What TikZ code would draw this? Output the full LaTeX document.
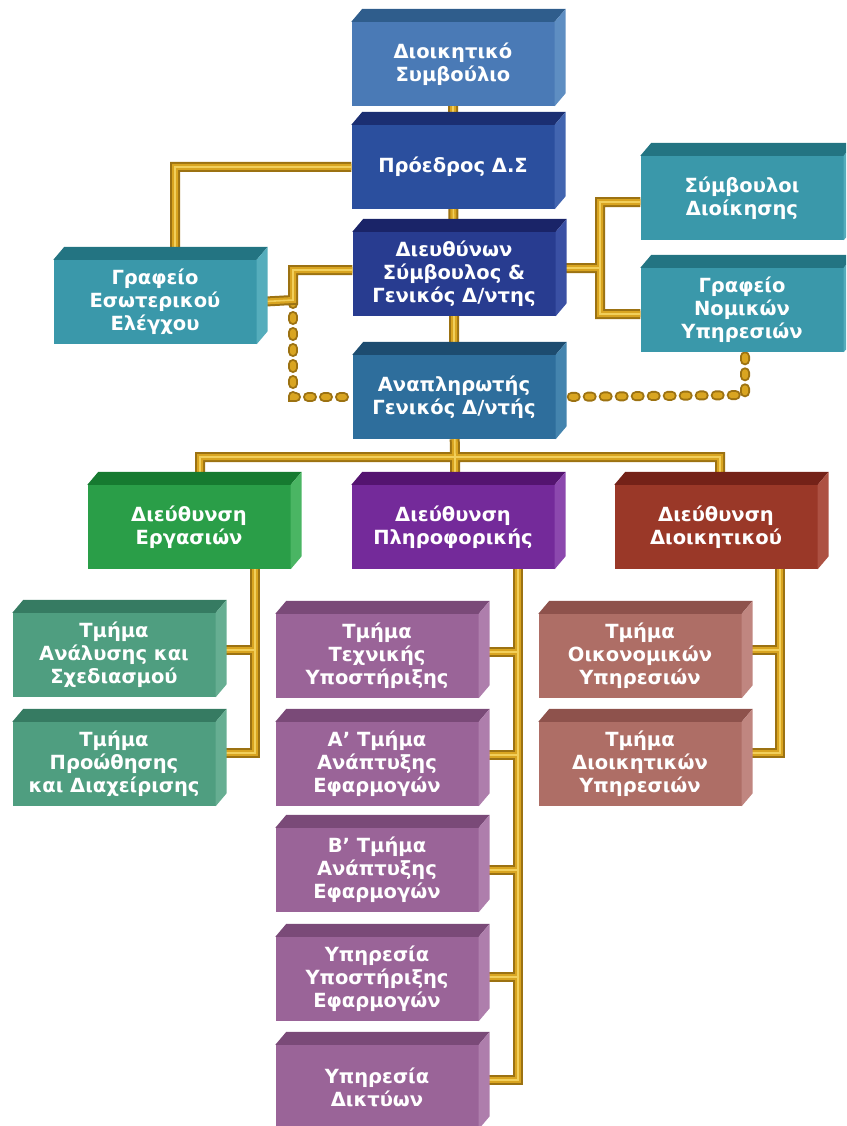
\documentclass[tikz,border=0pt]{standalone}
\usepackage{fontspec}
\setmainfont{DejaVu Sans}
\usetikzlibrary{calc}
\pgfdeclarelayer{bg}
\pgfsetlayers{bg,main}
\definecolor{pipedark}{HTML}{9C7212}
\definecolor{pipemid}{HTML}{D9A521}
\definecolor{pipelight}{HTML}{F2CF5A}
\definecolor{bAf}{HTML}{4A7AB6}\definecolor{bAt}{HTML}{2F5D8C}\definecolor{bAs}{HTML}{5E8EC2}
\definecolor{bBf}{HTML}{2B4F9E}\definecolor{bBt}{HTML}{1B2F72}\definecolor{bBs}{HTML}{4265B0}
\definecolor{bCf}{HTML}{283C90}\definecolor{bCt}{HTML}{1A2468}\definecolor{bCs}{HTML}{3A50A4}
\definecolor{bDf}{HTML}{2E6E9C}\definecolor{bDt}{HTML}{1D4C70}\definecolor{bDs}{HTML}{4484AE}
\definecolor{tlf}{HTML}{3A98AA}\definecolor{tlt}{HTML}{237482}\definecolor{tls}{HTML}{55ADBC}
\definecolor{grf}{HTML}{2A9E48}\definecolor{grt}{HTML}{167A30}\definecolor{grs}{HTML}{4AB563}
\definecolor{puf}{HTML}{742A9A}\definecolor{put}{HTML}{541470}\definecolor{pus}{HTML}{8C48AE}
\definecolor{rdf}{HTML}{9A3828}\definecolor{rdt}{HTML}{742218}\definecolor{rds}{HTML}{AD5142}
\definecolor{gsf}{HTML}{4F9E80}\definecolor{gst}{HTML}{367B62}\definecolor{gss}{HTML}{66AE92}
\definecolor{psf}{HTML}{9A6498}\definecolor{pst}{HTML}{7A4A78}\definecolor{pss}{HTML}{AE7EAC}
\definecolor{rsf}{HTML}{AE6E66}\definecolor{rst}{HTML}{8E524C}\definecolor{rss}{HTML}{C08680}
\tikzset{
  obox/.style={rectangle, minimum width=203pt, minimum height=84pt, inner sep=0pt,
    text=white, align=center, font=\bfseries\fontsize{19.5}{23}\selectfont},
  pipe/.style={draw=pipemid, line width=6pt,
    preaction={draw=pipedark, line width=10pt},
    postaction={draw=pipelight, line width=1.6pt}},
  dpipe/.style={draw=pipemid, line width=6pt, line cap=round, dash pattern=on 4pt off 12pt,
    preaction={draw=pipedark, line width=10pt, line cap=round, dash pattern=on 4pt off 12pt}},
}
\newcommand\faces[3]{%
  \fill[#2] (#1.north west) -- ++(11,13) -- ([shift={(11,13)}]#1.north east) -- (#1.north east) -- cycle;
  \fill[#3] (#1.north east) -- ++(11,13) -- ([shift={(11,13)}]#1.south east) -- (#1.south east) -- cycle;}
\begin{document}
\begin{tikzpicture}[x=1pt,y=1pt]
\useasboundingbox (0,0) rectangle (846,-1126);
\clip (0,0) rectangle (846,-1126);
% top chain
\node[obox, fill=bAf] (b1) at (453,-64) {Διοικητικό\\Συμβούλιο};
\node[obox, fill=bBf] (b2) at (453,-167) {Πρόεδρος Δ.Σ};
\node[obox, fill=bCf] (b3) at (454,-274) {Διευθύνων\\Σύμβουλος \&\\Γενικός Δ/ντης};
\node[obox, fill=bDf] (b4) at (454,-397) {Αναπληρωτής\\Γενικός Δ/ντής};
\node[obox, fill=tlf] (gi) at (155,-302) {Γραφείο\\Εσωτερικού\\Ελέγχου};
\node[obox, fill=tlf] (sd) at (742,-198) {Σύμβουλοι\\Διοίκησης};
\node[obox, fill=tlf] (gn) at (742,-310) {Γραφείο\\Νομικών\\Υπηρεσιών};
% directorates
\node[obox, fill=grf] (dE) at (189,-527) {Διεύθυνση\\Εργασιών};
\node[obox, fill=puf] (dP) at (453,-527) {Διεύθυνση\\Πληροφορικής};
\node[obox, fill=rdf] (dD) at (716,-527) {Διεύθυνση\\Διοικητικού};
% departments
\node[obox, fill=gsf] (g1) at (114,-655) {Τμήμα\\Ανάλυσης και\\Σχεδιασμού};
\node[obox, fill=gsf] (g2) at (114,-764) {Τμήμα\\Προώθησης\\και Διαχείρισης};
\node[obox, fill=psf] (p1) at (377,-656) {Τμήμα\\Τεχνικής\\Υποστήριξης};
\node[obox, fill=psf] (p2) at (377,-764) {Α’ Τμήμα\\Ανάπτυξης\\Εφαρμογών};
\node[obox, fill=psf] (p3) at (377,-870) {Β’ Τμήμα\\Ανάπτυξης\\Εφαρμογών};
\node[obox, fill=psf] (p4) at (377,-979) {Υπηρεσία\\Υποστήριξης\\Εφαρμογών};
\node[obox, fill=psf] (p5) at (377,-1087) {Υπηρεσία\\Δικτύων};
\node[obox, fill=rsf] (r1) at (640,-656) {Τμήμα\\Οικονομικών\\Υπηρεσιών};
\node[obox, fill=rsf] (r2) at (640,-764) {Τμήμα\\Διοικητικών\\Υπηρεσιών};
% 3D faces
\faces{b1}{bAt}{bAs}\faces{b2}{bBt}{bBs}\faces{b3}{bCt}{bCs}\faces{b4}{bDt}{bDs}
\faces{gi}{tlt}{tls}\faces{sd}{tlt}{tls}\faces{gn}{tlt}{tls}
\faces{dE}{grt}{grs}\faces{dP}{put}{pus}\faces{dD}{rdt}{rds}
\faces{g1}{gst}{gss}\faces{g2}{gst}{gss}
\faces{p1}{pst}{pss}\faces{p2}{pst}{pss}\faces{p3}{pst}{pss}\faces{p4}{pst}{pss}\faces{p5}{pst}{pss}
\faces{r1}{rst}{rss}\faces{r2}{rst}{rss}
% connectors
\begin{pgfonlayer}{bg}
\coordinate (j1) at (293,-300);
\coordinate (j2) at (600,-268);
\coordinate (bus) at (455,-457);
\coordinate (gv) at (255,-568);
\coordinate (pv) at (518,-568);
\coordinate (rv) at (780,-568);
\draw[dpipe] (j1) |- (b4.west);
\draw[dpipe] (b4.east) -- (745,-395) -- ([xshift=3]gn.south);
% top part as one pipe network
\draw[pipe] (b1) -- (b2) -- (b3) -- (b4) -- (bus)
  (b2.west) -| ([xshift=20]gi.north)
  ([yshift=4]b3.west) -| (j1) -- (gi.east)
  ([yshift=6]b3.east) -- (j2)
  ([yshift=-4]sd.west) -| (j2) |- ([yshift=-4]gn.west)
  ([xshift=11]dE.north) |- (bus) -| ([xshift=4]dD.north)
  (bus) -- (bus |- dP.north);
% green
\draw[pipe] (gv) |- ([yshift=11]g2.east)
  ([yshift=5]g1.east) -- ([yshift=5]g1.east -| gv);
% purple
\draw[pipe] (pv) |- ([yshift=7]p5.east)
  ([yshift=4]p1.east) -- ([yshift=4]p1.east -| pv)
  ([yshift=9]p2.east) -- ([yshift=9]p2.east -| pv)
  (p3.east) -- (p3.east -| pv)
  ([yshift=2]p4.east) -- ([yshift=2]p4.east -| pv);
% red
\draw[pipe] (rv) |- ([yshift=11]r2.east)
  ([yshift=6]r1.east) -- ([yshift=6]r1.east -| rv);
\end{pgfonlayer}
\end{tikzpicture}
\end{document}
